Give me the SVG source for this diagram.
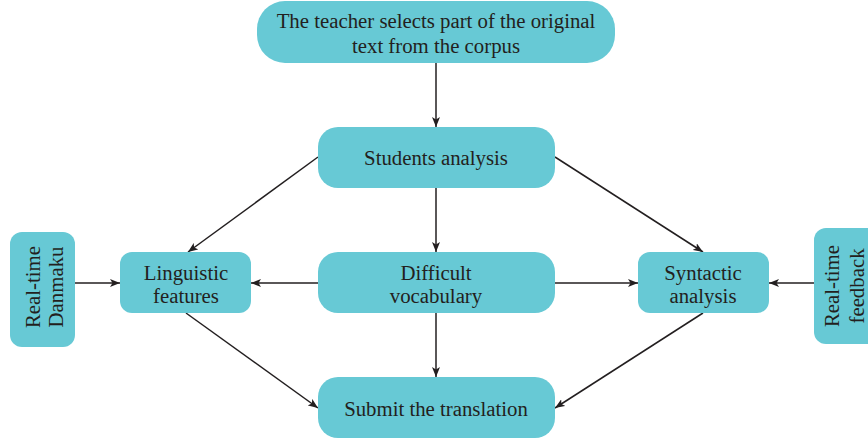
<svg xmlns="http://www.w3.org/2000/svg" width="868" height="441" viewBox="0 0 868 441">
  <defs>
    <marker id="arrow" viewBox="0 0 10 8" refX="10" refY="4" markerWidth="10" markerHeight="8" markerUnits="userSpaceOnUse" orient="auto">
      <path d="M0,0 L10,4 L0,8 L2.5,4 Z" fill="#231f20"/>
    </marker>
  </defs>
  <style>
    .box { fill: #67c9d5; }
    .lbl { font-family: "Liberation Serif", "DejaVu Serif", serif; font-size: 20.8px; fill: #231f20; text-anchor: middle; }
    .edge { stroke: #231f20; stroke-width: 1.5; fill: none; marker-end: url(#arrow); }
  </style>
  <rect width="868" height="441" fill="#ffffff"/>

  <g id="edges">
    <line class="edge" x1="436" y1="63" x2="436" y2="127"/>
    <line class="edge" x1="436" y1="188" x2="436" y2="252"/>
    <line class="edge" x1="436" y1="313" x2="436" y2="377"/>
    <line class="edge" x1="318" y1="157" x2="188" y2="252"/>
    <line class="edge" x1="555" y1="157" x2="703" y2="252"/>
    <line class="edge" x1="318" y1="283" x2="251" y2="283"/>
    <line class="edge" x1="555" y1="283" x2="638" y2="283"/>
    <line class="edge" x1="75" y1="283" x2="120" y2="283"/>
    <line class="edge" x1="814" y1="283" x2="769" y2="283"/>
    <line class="edge" x1="186" y1="313" x2="318" y2="408"/>
    <line class="edge" x1="703" y1="313" x2="555" y2="408"/>
  </g>

  <g id="teacher">
    <rect class="box" x="257" y="1" width="358" height="62" rx="28"/>
    <text class="lbl" x="436" y="28">The teacher selects part of the original</text>
    <text class="lbl" x="436" y="53">text from the corpus</text>
  </g>

  <g id="students">
    <rect class="box" x="318" y="127" width="237" height="61" rx="20"/>
    <text class="lbl" x="436" y="165">Students analysis</text>
  </g>

  <g id="linguistic">
    <rect class="box" x="120" y="252" width="131" height="61" rx="12"/>
    <text class="lbl" x="186" y="280">Linguistic</text>
    <text class="lbl" x="186" y="303">features</text>
  </g>

  <g id="vocabulary">
    <rect class="box" x="318" y="252" width="237" height="61" rx="20"/>
    <text class="lbl" x="436" y="280">Difficult</text>
    <text class="lbl" x="436" y="303">vocabulary</text>
  </g>

  <g id="syntactic">
    <rect class="box" x="638" y="252" width="131" height="61" rx="12"/>
    <text class="lbl" x="703" y="280">Syntactic</text>
    <text class="lbl" x="703" y="303">analysis</text>
  </g>

  <g id="danmaku">
    <rect class="box" x="10" y="232" width="65" height="115" rx="12"/>
    <g transform="translate(42,287) rotate(-90)">
      <text class="lbl" x="0" y="-2">Real-time</text>
      <text class="lbl" x="0" y="21">Danmaku</text>
    </g>
  </g>

  <g id="feedback">
    <rect class="box" x="814" y="228" width="70" height="116" rx="12"/>
    <g transform="translate(843,286) rotate(-90)">
      <text class="lbl" x="0" y="-4">Real-time</text>
      <text class="lbl" x="0" y="21">feedback</text>
    </g>
  </g>

  <g id="submit">
    <rect class="box" x="318" y="377" width="237" height="61" rx="20"/>
    <text class="lbl" x="436" y="416">Submit the translation</text>
  </g>
</svg>
